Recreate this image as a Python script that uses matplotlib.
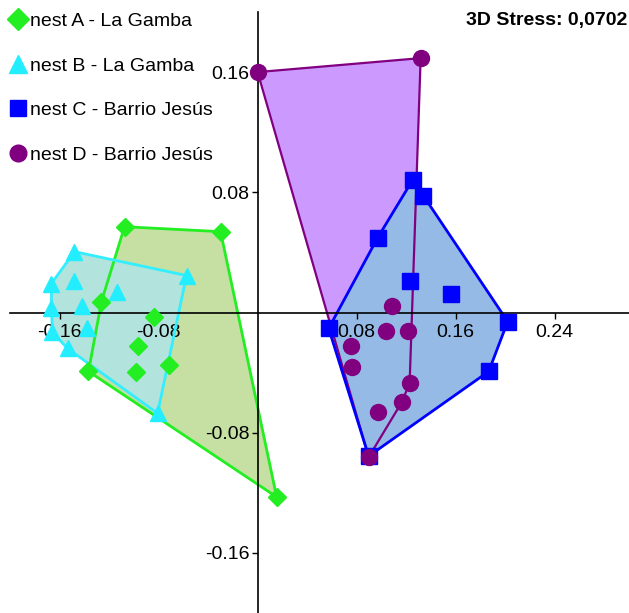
import numpy as np
import matplotlib
matplotlib.use("Agg")
import matplotlib.pyplot as plt
from matplotlib.lines import Line2D
from matplotlib.patches import Polygon

plt.rcParams["font.family"] = ["Liberation Sans", "DejaVu Sans"]

# NMDS ordination scores (axis 1, axis 2) per nest
nest_a_x = [-0.1075, -0.0299, -0.1261, -0.0840, -0.0970, -0.0719, -0.0986, -0.1366, 0.0154]
nest_a_y = [0.0571, 0.0538, 0.0073, -0.0027, -0.0226, -0.0352, -0.0398, -0.0392, -0.1228]

nest_b_x = [-0.1479, -0.0574, -0.1665, -0.1479, -0.1139, -0.1422, -0.1665, -0.1382, -0.1657, -0.1535, -0.0808]
nest_b_y = [0.0405, 0.0246, 0.0193, 0.0212, 0.0139, 0.0046, 0.0027, -0.0106, -0.0133, -0.0239, -0.0671]

nest_c_x = [0.1253, 0.1333, 0.0970, 0.1228, 0.1560, 0.2020, 0.0574, 0.1867, 0.0897]
nest_c_y = [0.0883, 0.0777, 0.0498, 0.0212, 0.0120, -0.0060, -0.0106, -0.0392, -0.0956]

nest_d_x = [0.0000, 0.1317, 0.1083, 0.1034, 0.1212, 0.0752, 0.0760, 0.1228, 0.1164, 0.0970, 0.0897]
nest_d_y = [0.1600, 0.1693, 0.0046, -0.0126, -0.0126, -0.0226, -0.0365, -0.0471, -0.0598, -0.0664, -0.0963]

labels = ["nest A - La Gamba", "nest B - La Gamba",
          "nest C - Barrio Jesús", "nest D - Barrio Jesús"]
xticks = [-0.16, -0.08, 0.08, 0.16, 0.24]
yticks = [-0.16, -0.08, 0.08, 0.16]
stress_label = "3D Stress: 0,0702"


def convex_hull(xs, ys):
    pts = sorted(set(zip(xs, ys)))

    def cross(o, a, b):
        return (a[0] - o[0]) * (b[1] - o[1]) - (a[1] - o[1]) * (b[0] - o[0])

    lower, upper = [], []
    for p in pts:
        while len(lower) >= 2 and cross(lower[-2], lower[-1], p) <= 0:
            lower.pop()
        lower.append(p)
    for p in reversed(pts):
        while len(upper) >= 2 and cross(upper[-2], upper[-1], p) <= 0:
            upper.pop()
        upper.append(p)
    return np.array(lower[:-1] + upper[:-1])


groups = [
    # x, y, marker, size, marker colour, edge colour, fill colour
    (nest_a_x, nest_a_y, "D", 9.0, "#22ee22", "#22ee22", "#c5e0a2"),
    (nest_b_x, nest_b_y, "^", 12.0, "#22eeff", "#33eeff", "#b2e3dc"),
    (nest_d_x, nest_d_y, "o", 11.5, "#800080", "#800080", "#cc99ff"),
    (nest_c_x, nest_c_y, "s", 11.0, "#0000ff", "#0000ff", "#96bae6"),
]

fig = plt.figure(figsize=(6.29, 6.13), dpi=100)
ax = fig.add_axes([10 / 629, 0, 619 / 629, 601 / 613])
ax.set_xlim(-0.2, 0.3)
ax.set_ylim(-0.2, 0.2)

# hull fills first, then outlines, then the points
for i, (xs, ys, m, ms, mc, ec, fc) in enumerate(groups):
    hull = convex_hull(xs, ys)
    ax.add_patch(Polygon(hull, closed=True, facecolor=fc, edgecolor="none", zorder=1 + i * 0.1))
for i, (xs, ys, m, ms, mc, ec, fc) in enumerate(groups):
    hull = convex_hull(xs, ys)
    lw = 1.6 if m == "o" else 2.0
    ax.add_patch(Polygon(hull, closed=True, facecolor="none", edgecolor=ec, lw=lw, zorder=3 + i * 0.1))

order = [0, 1, 3, 2]
for i in order:
    xs, ys, m, ms, mc, ec, fc = groups[i]
    ax.plot(xs, ys, ls="none", marker=m, ms=ms, color=mc, mec=mc, zorder=5 + order.index(i) * 0.1)

for side in ["top", "right"]:
    ax.spines[side].set_visible(False)
for side in ["left", "bottom"]:
    ax.spines[side].set_position(("data", 0))
    ax.spines[side].set_linewidth(1.2)
    ax.spines[side].set_zorder(4)
ax.set_xticks(xticks)
ax.set_yticks(yticks)
ax.set_xticklabels([f"{t:.2f}" for t in xticks])
ax.set_yticklabels([f"{t:.2f}" for t in yticks])
ax.tick_params(direction="out", length=4, width=1.0, labelsize=14)
ax.tick_params(axis="x", pad=4)
ax.tick_params(axis="y", pad=2)
ax.patch.set_visible(False)

handles = []
legend_sizes = [11.0, 12.5, 12.0, 12.0]
for i, lbl in enumerate(labels):
    xs, ys, m, ms, mc, ec, fc = groups[order[i]]
    handles.append(Line2D([], [], ls="none", marker=m, ms=legend_sizes[i], color=mc, label=lbl))
fig.legend(handles=handles, loc="upper left", bbox_to_anchor=(-0.006, 1.0),
           frameon=False, fontsize=14, handlelength=0.9, handletextpad=0.2,
           labelspacing=1.38, borderpad=0.45, borderaxespad=0.2)

fig.text(0.998, 0.967, stress_label, ha="right", va="center",
         fontsize=14, fontweight="bold")

fig.savefig("out.png", dpi=100, facecolor="white")
